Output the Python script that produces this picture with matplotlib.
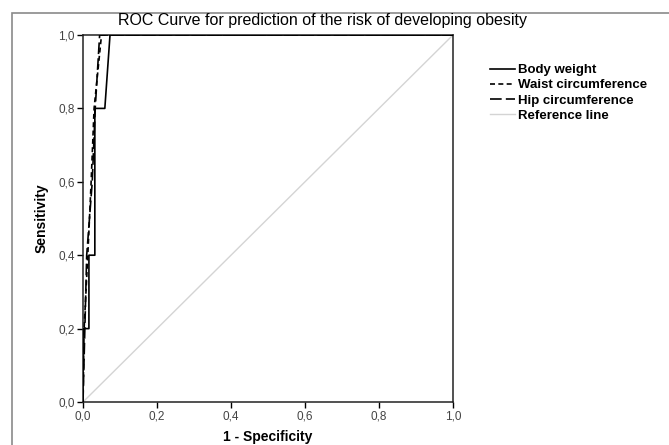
import matplotlib
matplotlib.use("Agg")
import matplotlib.pyplot as plt
from matplotlib.patches import Rectangle
from matplotlib.ticker import FuncFormatter

plt.rcParams["font.family"] = ["Liberation Sans", "DejaVu Sans"]

# ROC points (1 - specificity, sensitivity)
body_fpr = [0.0, 0.0, 0.016, 0.016, 0.032, 0.032, 0.059, 0.073, 1.0]
body_tpr = [0.0, 0.2, 0.2, 0.4, 0.4, 0.8, 0.8, 1.0, 1.0]
waist_fpr = [0.0, 0.003, 0.013, 0.022, 0.030, 0.050, 1.0]
waist_tpr = [0.0, 0.2, 0.4, 0.6, 0.8, 1.0, 1.0]
hip_fpr = [0.0, 0.005, 0.010, 0.025, 0.033, 0.045, 1.0]
hip_tpr = [0.0, 0.2, 0.4, 0.6, 0.8, 1.0, 1.0]
ref_x = [0.0, 1.0]
ref_y = [0.0, 1.0]
ticks = [0.0, 0.2, 0.4, 0.6, 0.8, 1.0]

fig = plt.figure(figsize=(6.69, 4.45), dpi=100)
# outer chart frame (cropped on right/bottom)
fig.patches.append(Rectangle((12 / 669, -0.1), 1.2, 1 - 13 / 445 + 0.1,
                             transform=fig.transFigure, fill=False,
                             edgecolor="#8a8a8a", linewidth=1.2))

ax = fig.add_axes([83 / 669, 1 - 402 / 445, 370 / 669, 367 / 445])
ax.plot(ref_x, ref_y, color="#d4d4d4", linewidth=1.0, label="Reference line", zorder=1)
ax.plot(waist_fpr, waist_tpr, color="black", linewidth=1.2, dashes=(3, 2),
        label="Waist circumference", zorder=3)
ax.plot(hip_fpr, hip_tpr, color="black", linewidth=1.2, dashes=(7, 2.5),
        label="Hip circumference", zorder=3)
ax.plot(body_fpr, body_tpr, color="black", linewidth=1.2, label="Body weight", zorder=4)

ax.set_xlim(0, 1)
ax.set_ylim(0, 1)
ax.set_xticks(ticks)
ax.set_yticks(ticks)
fmt = FuncFormatter(lambda v, p: f"{v:.1f}".replace(".", ","))
ax.xaxis.set_major_formatter(fmt)
ax.yaxis.set_major_formatter(fmt)
ax.tick_params(direction="out", length=4, width=1, labelsize=8.5, colors="black",
               labelcolor="#444444", pad=2)
for s in ax.spines.values():
    s.set_linewidth(1.1)
    s.set_color("#222222")

fig.text(268 / 669, 1 - 437 / 445, "1 - Specificity", ha="center", va="center",
         fontsize=10, fontweight="bold")
fig.text(42 / 669, 1 - 218 / 445, "Sensitivity", ha="center", va="center",
         rotation=90, fontsize=10, fontweight="bold")
fig.text(323 / 669, 1 - 20 / 445, "ROC Curve for prediction of the risk of developing obesity",
         ha="center", va="center", fontsize=11.5)

handles, labels = ax.get_legend_handles_labels()
order = [3, 1, 2, 0]
leg = ax.legend([handles[i] for i in order], [labels[i] for i in order],
                loc="upper left", bbox_to_anchor=(490 / 669, 1 - 64 / 445),
                bbox_transform=fig.transFigure, frameon=False, fontsize=9.5,
                handlelength=1.9, handletextpad=0.25, labelspacing=0.22,
                borderaxespad=0, borderpad=0)
for t in leg.get_texts():
    t.set_fontweight("bold")

fig.savefig("out.png", dpi=100)
